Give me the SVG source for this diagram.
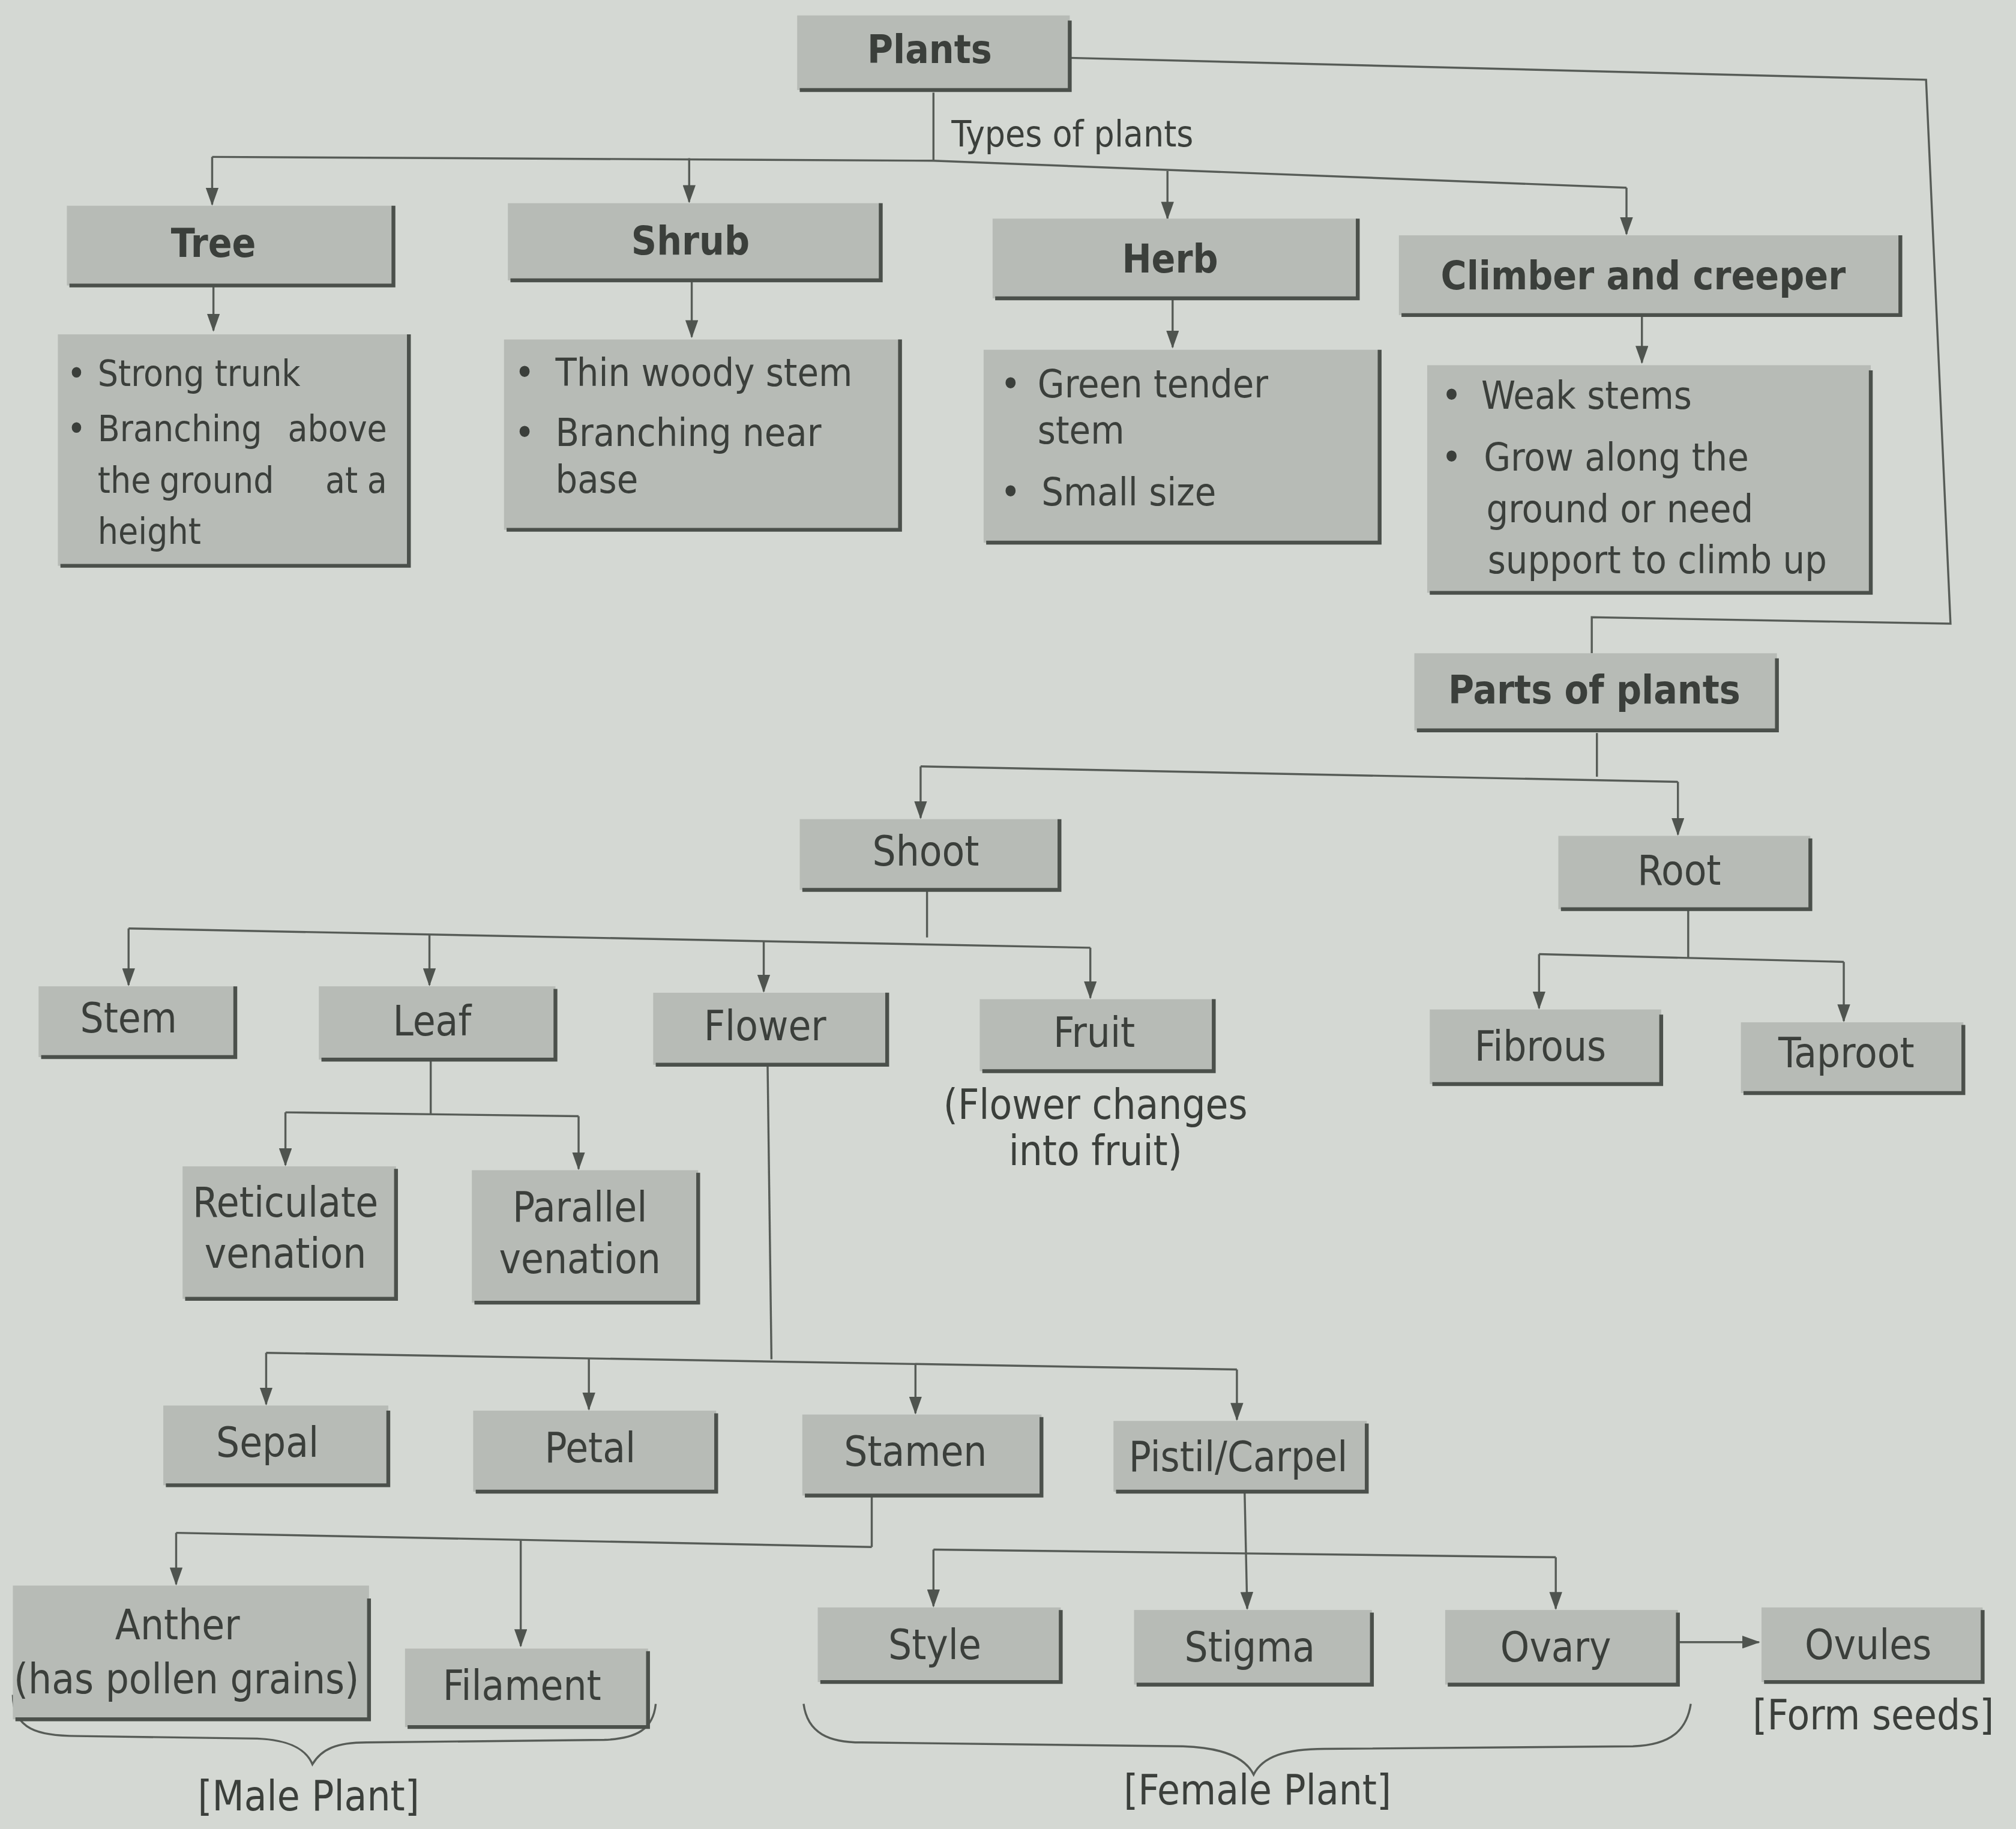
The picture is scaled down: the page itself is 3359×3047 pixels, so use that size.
<svg xmlns="http://www.w3.org/2000/svg" width="3359" height="3047" viewBox="0 0 3359 3047">
<defs>
<marker id="ah" markerUnits="userSpaceOnUse" markerWidth="14" markerHeight="10" refX="13" refY="5" orient="auto" viewBox="0 0 14 10">
<path d="M0,0 L14,5 L0,10 Z" fill="#4f544f"/>
</marker>
<style>
.box{fill:#b7bbb6}
.edge{fill:none;stroke:#4b504b;stroke-width:3}
.t{font-family:"DejaVu Sans Condensed","DejaVu Sans",sans-serif;font-stretch:condensed;fill:#3b3f3b;font-size:32px}
.b{font-weight:bold;font-size:30.5px}
.d{font-size:30px}
.s{font-size:28px}
.c{text-anchor:middle}
.e{text-anchor:end}
.ln{fill:none;stroke:#575c57;stroke-width:1.6}
.ar{fill:none;stroke:#575c57;stroke-width:1.6;marker-end:url(#ah)}
</style>
</defs>
<rect x="0" y="0" width="3359" height="3047" fill="#d4d8d3"/>
<g transform="scale(2.1423)">
<g id="connectors">
<path class="ln" d="M726,72 V125"/>
<path class="ln" d="M165,122 L726,125 L1265,146"/>
<path class="ar" d="M165,122 V159"/>
<path class="ar" d="M536,123 V157"/>
<path class="ar" d="M908,133 V170"/>
<path class="ar" d="M1265,146 V182"/>
<path class="ar" d="M166,222 V257"/>
<path class="ar" d="M538,219 V262"/>
<path class="ar" d="M912,232 V270"/>
<path class="ar" d="M1277,245 V282"/>
<path class="ln" d="M832,45 L1498,62 L1517,485 L1238,480 L1238,508"/>
<path class="ln" d="M1242,570 V604"/>
<path class="ln" d="M716,596 L1305,608"/>
<path class="ar" d="M716,596 V636"/>
<path class="ar" d="M1305,608 V649"/>
<path class="ln" d="M721,692 V729"/>
<path class="ln" d="M100,722 L848,737"/>
<path class="ar" d="M100,722 V766"/>
<path class="ar" d="M334,727 V766"/>
<path class="ar" d="M594,732 V771"/>
<path class="ar" d="M848,737 V776"/>
<path class="ln" d="M1313,707 V745"/>
<path class="ln" d="M1197,742 L1434,748"/>
<path class="ar" d="M1197,742 V784"/>
<path class="ar" d="M1434,748 V794"/>
<path class="ln" d="M335,825 V866"/>
<path class="ln" d="M222,865 L450,868"/>
<path class="ar" d="M222,865 V906"/>
<path class="ar" d="M450,868 V909"/>
<path class="ln" d="M597,828 L600,1057"/>
<path class="ln" d="M207,1052 L962,1065"/>
<path class="ar" d="M207,1052 V1092"/>
<path class="ar" d="M458,1056 V1096"/>
<path class="ar" d="M712,1061 V1099"/>
<path class="ar" d="M962,1065 V1104"/>
<path class="ln" d="M678,1163 V1203"/>
<path class="ln" d="M137,1192 L678,1203"/>
<path class="ar" d="M137,1192 V1232"/>
<path class="ar" d="M405,1198 V1280"/>
<path class="ar" d="M968,1160 L970,1251"/>
<path class="ln" d="M726,1205 L1210,1211"/>
<path class="ar" d="M726,1205 V1249"/>
<path class="ar" d="M1210,1211 V1251"/>
<path class="ar" d="M1305,1277 H1368"/>
<path class="ln" d="M10,1318 C10,1345 30,1350 60,1350 L200,1352 C225,1353 238,1360 243,1372 C250,1360 262,1355 285,1355 L470,1353 C495,1352 508,1345 510,1325"/>
<path class="ln" d="M625,1325 C628,1348 645,1355 670,1355 L920,1358 C950,1359 968,1366 975,1380 C982,1366 1000,1360 1030,1360 L1270,1358 C1300,1357 1312,1345 1315,1325"/>
</g>
<text class="t s" x="740" y="114">Types of plants</text>

<g id="n-plants"><rect class="box" x="620" y="12" width="212" height="58"/><path class="edge" d="M832,16 V70 H622"/><text class="t b c" x="723" y="49">Plants</text></g>

<g id="n-tree"><rect class="box" x="52" y="160" width="254" height="62"/><path class="edge" d="M306,160 V222 H54"/><text class="t b c" x="166" y="200">Tree</text></g>
<g id="n-tree-desc"><rect class="box" x="45" y="260" width="273" height="180"/><path class="edge" d="M318,260 V440 H47"/>
<text class="t s" x="52" y="300">•</text><text class="t s" x="76" y="300">Strong trunk</text>
<text class="t s" x="52" y="343">•</text><text class="t s" x="76" y="343">Branching</text><text class="t s e" x="301" y="343">above</text>
<text class="t s" x="76" y="383">the</text><text class="t s" x="124" y="383">ground</text><text class="t s" x="253" y="383">at</text><text class="t s e" x="301" y="383">a</text>
<text class="t s" x="76" y="423">height</text></g>

<g id="n-shrub"><rect class="box" x="395" y="158" width="290" height="60"/><path class="edge" d="M685,158 V218 H397"/><text class="t b c" x="537" y="198">Shrub</text></g>
<g id="n-shrub-desc"><rect class="box" x="392" y="264" width="308" height="148"/><path class="edge" d="M700,264 V412 H394"/>
<text class="t d" x="400" y="300">•</text><text class="t d" x="432" y="300">Thin woody stem</text>
<text class="t d" x="400" y="347">•</text><text class="t d" x="432" y="347">Branching near</text>
<text class="t d" x="432" y="383">base</text></g>

<g id="n-herb"><rect class="box" x="772" y="170" width="284" height="62"/><path class="edge" d="M1056,170 V232 H774"/><text class="t b c" x="910" y="212">Herb</text></g>
<g id="n-herb-desc"><rect class="box" x="765" y="272" width="308" height="150"/><path class="edge" d="M1073,272 V422 H767"/>
<text class="t d" x="778" y="309">•</text><text class="t d" x="807" y="309">Green tender</text>
<text class="t d" x="807" y="345">stem</text>
<text class="t d" x="778" y="393">•</text><text class="t d" x="810" y="393">Small size</text></g>

<g id="n-climber"><rect class="box" x="1088" y="183" width="390" height="62"/><path class="edge" d="M1478,183 V245 H1090"/><text class="t b c" x="1278" y="225">Climber and creeper</text></g>
<g id="n-climber-desc"><rect class="box" x="1110" y="284" width="345" height="177"/><path class="edge" d="M1455,288 V461 H1112"/>
<text class="t d" x="1121" y="318">•</text><text class="t d" x="1152" y="318">Weak stems</text>
<text class="t d" x="1121" y="366">•</text><text class="t d" x="1154" y="366">Grow along the</text>
<text class="t d" x="1156" y="406">ground or need</text>
<text class="t d" x="1157" y="446">support to climb up</text></g>

<g id="n-parts"><rect class="box" x="1100" y="508" width="282" height="60"/><path class="edge" d="M1382,512 V568 H1102"/><text class="t b c" x="1240" y="547">Parts of plants</text></g>

<g id="n-shoot"><rect class="box" x="622" y="637" width="202" height="55"/><path class="edge" d="M824,637 V692 H624"/><text class="t c" x="720" y="673">Shoot</text></g>
<g id="n-root"><rect class="box" x="1212" y="650" width="196" height="57"/><path class="edge" d="M1408,652 V707 H1214"/><text class="t c" x="1306" y="688">Root</text></g>

<g id="n-stem"><rect class="box" x="30" y="767" width="153" height="55"/><path class="edge" d="M183,767 V822 H32"/><text class="t c" x="100" y="803">Stem</text></g>
<g id="n-leaf"><rect class="box" x="248" y="767" width="184" height="57"/><path class="edge" d="M432,769 V824 H250"/><text class="t c" x="336" y="805">Leaf</text></g>
<g id="n-flower"><rect class="box" x="508" y="772" width="182" height="56"/><path class="edge" d="M690,772 V828 H510"/><text class="t c" x="595" y="809">Flower</text></g>
<g id="n-fruit"><rect class="box" x="762" y="777" width="182" height="56"/><path class="edge" d="M944,777 V833 H764"/><text class="t c" x="851" y="814">Fruit</text></g>
<text class="t c" x="852" y="870">(Flower changes</text>
<text class="t c" x="852" y="906">into fruit)</text>

<g id="n-fibrous"><rect class="box" x="1112" y="785" width="180" height="58"/><path class="edge" d="M1292,789 V843 H1114"/><text class="t c" x="1198" y="825">Fibrous</text></g>
<g id="n-taproot"><rect class="box" x="1354" y="795" width="173" height="55"/><path class="edge" d="M1527,797 V850 H1356"/><text class="t c" x="1436" y="830">Taproot</text></g>

<g id="n-reticulate"><rect class="box" x="142" y="907" width="166" height="103"/><path class="edge" d="M308,909 V1010 H144"/><text class="t c" x="222" y="946">Reticulate</text><text class="t c" x="222" y="986">venation</text></g>
<g id="n-parallel"><rect class="box" x="367" y="910" width="176" height="103"/><path class="edge" d="M543,912 V1013 H369"/><text class="t c" x="451" y="950">Parallel</text><text class="t c" x="451" y="990">venation</text></g>

<g id="n-sepal"><rect class="box" x="127" y="1093" width="175" height="62"/><path class="edge" d="M302,1097 V1155 H129"/><text class="t c" x="208" y="1133">Sepal</text></g>
<g id="n-petal"><rect class="box" x="368" y="1097" width="189" height="63"/><path class="edge" d="M557,1099 V1160 H370"/><text class="t c" x="459" y="1137">Petal</text></g>
<g id="n-stamen"><rect class="box" x="624" y="1100" width="186" height="63"/><path class="edge" d="M810,1102 V1163 H626"/><text class="t c" x="712" y="1140">Stamen</text></g>
<g id="n-pistil"><rect class="box" x="866" y="1105" width="197" height="55"/><path class="edge" d="M1063,1107 V1160 H868"/><text class="t c" x="963" y="1144">Pistil/Carpel</text></g>

<g id="n-anther"><rect class="box" x="10" y="1233" width="277" height="104"/><path class="edge" d="M287,1243 V1337 H12"/><text class="t c" x="138" y="1275">Anther</text><text class="t c" x="145" y="1317">(has pollen grains)</text></g>
<g id="n-filament"><rect class="box" x="315" y="1282" width="189" height="61"/><path class="edge" d="M504,1284 V1343 H317"/><text class="t c" x="406" y="1322">Filament</text></g>

<g id="n-style"><rect class="box" x="636" y="1250" width="189" height="58"/><path class="edge" d="M825,1252 V1308 H638"/><text class="t c" x="727" y="1290">Style</text></g>
<g id="n-stigma"><rect class="box" x="882" y="1252" width="185" height="58"/><path class="edge" d="M1067,1254 V1310 H884"/><text class="t c" x="972" y="1292">Stigma</text></g>
<g id="n-ovary"><rect class="box" x="1124" y="1252" width="181" height="58"/><path class="edge" d="M1305,1254 V1310 H1126"/><text class="t c" x="1210" y="1292">Ovary</text></g>
<g id="n-ovules"><rect class="box" x="1370" y="1250" width="172" height="58"/><path class="edge" d="M1542,1252 V1308 H1372"/><text class="t c" x="1453" y="1290">Ovules</text></g>
<text class="t c" x="1457" y="1345">[Form seeds]</text>
<text class="t c" x="240" y="1408">[Male Plant]</text>
<text class="t c" x="978" y="1403">[Female Plant]</text>
</g>
</svg>
